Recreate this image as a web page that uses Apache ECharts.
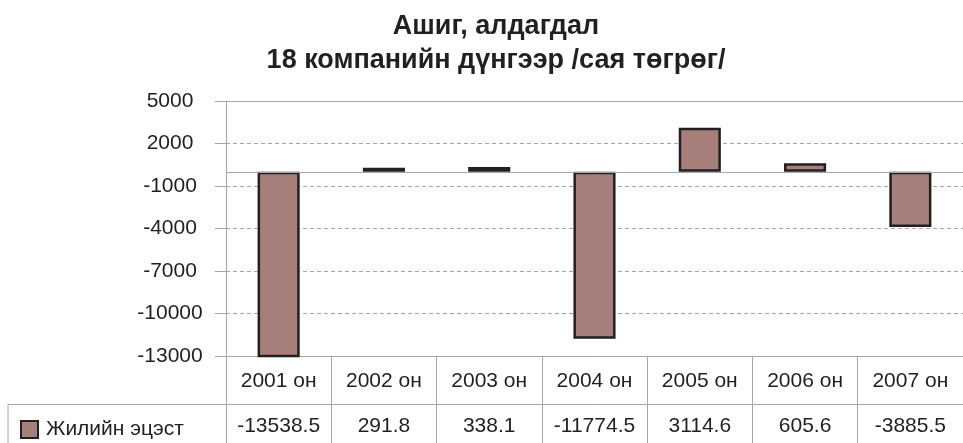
<!DOCTYPE html>
<html>
<head>
<meta charset="utf-8">
<script src="https://cdn.jsdelivr.net/npm/echarts@6/dist/echarts.min.js"></script>
<style>
  html, body { margin: 0; padding: 0; background: #fff; }
  #char { width: 963px; height: 443px; }
</style>
</head>
<body>
<div id="char"></div>
<script>
var categories = ["2001 он", "2002 он", "2003 он", "2004 он", "2005 он", "2006 он", "2007 он"];
var values = [-13538.5, 291.8, 338.1, -11774.5, 3114.6, 605.6, -3885.5];
var seriesName = "Жилийн эцэст";
var titleText = "Ашиг, алдагдал\n18 компанийн дүнгээр /сая төгрөг/";

var font = "'Liberation Sans', Arial, sans-serif";
var ink = "#231f20";
var grey = "#a6a6a6";

var myChart = echarts.init(document.getElementById("char"));
var option = {
  animation: false,
  textStyle: { fontFamily: font, color: ink },
  title: {
    text: titleText,
    left: 491,
    top: 5,
    textAlign: "center",
    textStyle: {
      fontFamily: font,
      fontSize: 27,
      fontWeight: "bold",
      color: ink,
      lineHeight: 34
    }
  },
  legend: {
    left: 15,
    top: 414,
    icon: "rect",
    itemWidth: 17,
    itemHeight: 17,
    textStyle: { fontFamily: font, fontSize: 21, color: ink, padding: [0, 0, 0, 3] },
    data: [seriesName]
  },
  grid: {
    left: 226,
    right: 0,
    top: 101,
    bottom: 87,
    containLabel: false
  },
  xAxis: [
    {
      // category row of the table
      type: "category",
      data: categories,
      position: "bottom",
      axisLine: { onZero: false, lineStyle: { color: grey, width: 1 } },
      axisTick: { show: true, alignWithLabel: false, length: 87, lineStyle: { color: grey } },
      axisLabel: { fontFamily: font, fontSize: 21, color: ink, margin: 15, interval: 0 },
      splitLine: { show: false }
    },
    {
      // values row of the table
      type: "category",
      data: categories,
      position: "bottom",
      offset: 48,
      axisLine: { onZero: false, lineStyle: { color: grey, width: 1 } },
      axisTick: { show: false },
      axisLabel: {
        fontFamily: font,
        fontSize: 21,
        color: ink,
        margin: 12,
        interval: 0,
        formatter: function (v, i) { return String(values[i]); }
      }
    },
    {
      // top border of the plot area
      type: "category",
      data: categories,
      position: "top",
      axisLine: { onZero: false, lineStyle: { color: grey, width: 1 } },
      axisTick: { show: false },
      axisLabel: { show: false }
    }
  ],
  yAxis: {
    type: "value",
    min: -13000,
    max: 5000,
    interval: 3000,
    axisLine: { show: true, lineStyle: { color: grey } },
    axisTick: { show: true, length: 11, lineStyle: { color: grey } },
    axisLabel: {
      fontFamily: font,
      fontSize: 21,
      color: ink,
      margin: 56,
      align: "center",
      formatter: function (v) { return String(v); }
    },
    splitLine: { show: true, lineStyle: { color: grey, type: [4, 3] } }
  },
  graphic: [
    {
      type: "polyline",
      silent: true,
      shape: { points: [[8, 443], [8, 404.5], [226, 404.5]] },
      style: { stroke: grey, lineWidth: 1, fill: null }
    }
  ],
  series: [
    {
      name: seriesName,
      type: "bar",
      data: values,
      barWidth: "40%",
      clip: true,
      itemStyle: { color: "#a67f7a", borderColor: ink, borderWidth: 2.5 },
      markLine: {
        silent: true,
        symbol: "none",
        label: { show: false },
        lineStyle: { color: grey, type: "solid", width: 1 },
        data: [{ yAxis: 0 }]
      }
    }
  ]
};
myChart.setOption(option);
</script>
</body>
</html>
